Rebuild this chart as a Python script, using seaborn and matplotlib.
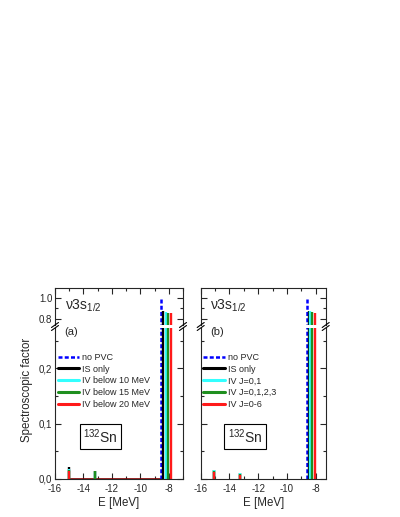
import matplotlib
matplotlib.use('Agg')
import matplotlib.pyplot as plt
import matplotlib.ticker as mticker
from matplotlib.lines import Line2D
import seaborn as sns

# strength distributions (E in MeV, spectroscopic factor)
a_nopvc_E, a_nopvc_S = [-8.56], [1.0]
a_is_E, a_is_S = [-15.0, -13.2, -8.39], [0.021, 0.015, 0.876]
a_iv10_E, a_iv10_S = [-15.0, -13.2, -8.23], [0.018, 0.012, 0.866]
a_iv15_E, a_iv15_S = [-15.0, -13.2, -8.07], [0.016, 0.014, 0.860]
a_iv20_E, a_iv20_S = [-15.0, -7.86], [0.014, 0.860]

b_nopvc_E, b_nopvc_S = [-8.57], [1.0]
b_is_E, b_is_S = [-15.07, -13.27, -8.46], [0.017, 0.011, 0.876]
b_j01_E, b_j01_S = [-15.07, -13.27, -8.36], [0.017, 0.011, 0.876]
b_j0123_E, b_j0123_S = [-15.07, -13.27, -8.22], [0.014, 0.009, 0.864]
b_j06_E, b_j06_S = [-15.07, -13.27, -8.06], [0.012, 0.008, 0.860]

labels_a = ['no PVC', 'IS only', 'IV below 10 MeV', 'IV below 15 MeV', 'IV below 20 MeV']
labels_b = ['no PVC', 'IS only', 'IV J=0,1', 'IV J=0,1,2,3', 'IV J=0-6']
colors = ['#0000ff', '#000000', '#33ffff', '#1f8f1f', '#ff1a1a']

sns.set_style('ticks')
plt.rcParams['font.family'] = ['Liberation Sans', 'DejaVu Sans']
plt.rcParams['mathtext.fontset'] = 'custom'
plt.rcParams['mathtext.rm'] = 'Liberation Sans'
plt.rcParams['mathtext.it'] = 'Liberation Sans:italic'
plt.rcParams['axes.unicode_minus'] = False

W, H = 400, 517
fig = plt.figure(figsize=(4, 5.17), dpi=100)


def px_box(x0, x1, y0, y1):
    return [x0 / W, 1 - y1 / H, (x1 - x0) / W, (y1 - y0) / H]


def draw_panel(x0, x1, xmax, series, labels, tag, show_ylab, baseline=None):
    ax_t = fig.add_axes(px_box(x0, x1, 288, 325))
    ax_b = fig.add_axes(px_box(x0, x1, 328, 479))
    for ax in (ax_t, ax_b):
        if baseline is not None:
            ax.hlines(0, min(baseline), max(baseline), color='#8b0000', lw=1.2)
        for i, (E, S) in enumerate(series):
            if i == 0:
                ax.vlines(E, 0, S, color=colors[i], lw=1.8, linestyles=(0, (1.6, 0.9)))
            else:
                ax.vlines(E, 0, S, color=colors[i], lw=1.7)
        ax.set_xlim(-16, xmax)
        ax.xaxis.set_major_locator(mticker.MultipleLocator(2))
        ax.xaxis.set_minor_locator(mticker.MultipleLocator(1))
        for s in ax.spines.values():
            s.set_linewidth(0.8)
    ax_t.set_ylim(0.743, 1.095)
    ax_b.set_ylim(0, 0.273)
    ax_t.yaxis.set_major_locator(mticker.FixedLocator([0.8, 1.0]))
    ax_t.yaxis.set_minor_locator(mticker.FixedLocator([0.9]))
    ax_t.yaxis.set_major_formatter(mticker.FuncFormatter(lambda v, p: f'{v:.1f}'))
    ax_b.yaxis.set_major_locator(mticker.MultipleLocator(0.1))
    ax_b.yaxis.set_minor_locator(mticker.MultipleLocator(0.05))
    ax_b.yaxis.set_major_formatter(mticker.FuncFormatter(lambda v, p: f'{v:.1f}'.replace('.', ',')))
    ax_t.spines['bottom'].set_visible(False)
    ax_b.spines['top'].set_visible(False)
    ax_t.tick_params(axis='x', which='both', top=True, bottom=False, labelbottom=False, direction='in')
    ax_b.tick_params(axis='x', which='both', top=False, bottom=True, direction='in')
    for ax in (ax_t, ax_b):
        ax.tick_params(axis='y', which='both', left=True, right=True, direction='in')
        ax.tick_params(which='major', length=4, width=0.8, labelsize=7, pad=2)
        ax.tick_params(which='minor', length=2, width=0.8)
        if not show_ylab:
            ax.tick_params(axis='y', labelleft=False)
    ax_b.tick_params(axis='x', pad=3.5)
    ax_b.set_xlabel('E [MeV]', fontsize=8.3, labelpad=2)

    ax_t.text(0.075, 0.42, 'ν3s$_{1/2}$', transform=ax_t.transAxes, fontsize=10, va='baseline')
    ax_b.text(0.075, 0.954, f'({tag})', transform=ax_b.transAxes, fontsize=8, va='baseline')
    ax_b.text(0.355, 0.28, '$^{132}$Sn', transform=ax_b.transAxes, fontsize=10,
              ha='center', va='center',
              bbox=dict(boxstyle='square,pad=0.25', fc='white', ec='black', lw=0.8))

    handles = [Line2D([], [], color=colors[0], lw=1.8, ls=(0, (1.6, 0.9)))]
    handles += [Line2D([], [], color=c, lw=2.2) for c in colors[1:]]
    ax_b.legend(handles, labels, loc='upper left', bbox_to_anchor=(0.02, 0.835),
                frameon=False, fontsize=6.5, handlelength=2.4, handletextpad=0.3,
                labelspacing=0.3, borderpad=0, borderaxespad=0)

    # break marks on both spines
    for xs in (x0, x1):
        for dy in (-1.5, 1.5):
            yc = 326.5 + dy
            fig.add_artist(Line2D([(xs - 3.5) / W, (xs + 3.5) / W],
                                  [1 - (yc + 2.5) / H, 1 - (yc - 2.5) / H],
                                  color='black', lw=0.8))


draw_panel(55, 183, -7.0,
           [(a_nopvc_E, a_nopvc_S), (a_is_E, a_is_S), (a_iv10_E, a_iv10_S),
            (a_iv15_E, a_iv15_S), (a_iv20_E, a_iv20_S)],
           labels_a, 'a', True, baseline=[-15.0, -8.5])
draw_panel(200.7, 325.7, -7.3,
           [(b_nopvc_E, b_nopvc_S), (b_is_E, b_is_S), (b_j01_E, b_j01_S),
            (b_j0123_E, b_j0123_S), (b_j06_E, b_j06_S)],
           labels_b, 'b', False)

fig.text(26.7 / W, 1 - 390 / H, 'Spectroscopic factor', rotation=90,
         fontsize=8.3, ha='center', va='center')

fig.savefig('out.png', dpi=100)
